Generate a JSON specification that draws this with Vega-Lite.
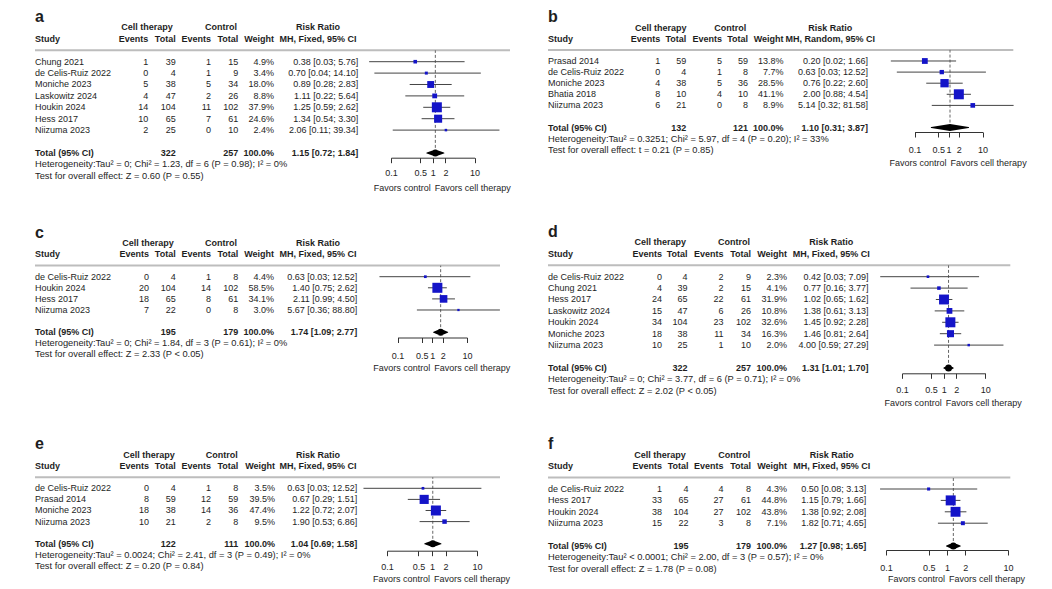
{
"$schema": "https://vega.github.io/schema/vega-lite/v6.json",
"usermeta": {"embedOptions": {"actions": false}},
"background": "white",
"padding": {"left": 0, "top": 4, "right": 6, "bottom": 2},
"config": {
 "view": {"stroke": null},
 "font": "Liberation Sans",
 "text": {"font": "Liberation Sans", "fontSize": 9, "color": "#1e1e1e"},
 "axis": {"labelFont": "Liberation Sans", "labelFontSize": 9, "labelColor": "#1e1e1e", "domainColor": "#333", "tickColor": "#333", "tickSize": 5, "labelFlush": false, "labelOverlap": false, "grid": false}
},
"datasets": {
 "cols": [{"key":"s","c":0},{"key":"lab","c":0},{"key":"e1","c":1},{"key":"n1","c":2},{"key":"e2","c":3},{"key":"n2","c":4},{"key":"wt","c":5},{"key":"ci","c":6}],
 "a_st": [
  {"r":1,"s":"Chung 2021","e1":1,"n1":39,"e2":1,"n2":15,"wt":"4.9%","w":4.9,"ci":"0.38 [0.03; 5.76]","rr":0.38,"lo":0.03,"hi":5.76},
  {"r":2,"s":"de Celis-Ruiz 2022","e1":0,"n1":4,"e2":1,"n2":9,"wt":"3.4%","w":3.4,"ci":"0.70 [0.04; 14.10]","rr":0.70,"lo":0.04,"hi":14.10},
  {"r":3,"s":"Moniche 2023","e1":5,"n1":38,"e2":5,"n2":34,"wt":"18.0%","w":18.0,"ci":"0.89 [0.28; 2.83]","rr":0.89,"lo":0.28,"hi":2.83},
  {"r":4,"s":"Laskowitz 2024","e1":4,"n1":47,"e2":2,"n2":26,"wt":"8.8%","w":8.8,"ci":"1.11 [0.22; 5.64]","rr":1.11,"lo":0.22,"hi":5.64},
  {"r":5,"s":"Houkin 2024","e1":14,"n1":104,"e2":11,"n2":102,"wt":"37.9%","w":37.9,"ci":"1.25 [0.59; 2.62]","rr":1.25,"lo":0.59,"hi":2.62},
  {"r":6,"s":"Hess 2017","e1":10,"n1":65,"e2":7,"n2":61,"wt":"24.6%","w":24.6,"ci":"1.34 [0.54; 3.30]","rr":1.34,"lo":0.54,"hi":3.30},
  {"r":7,"s":"Niizuma 2023","e1":2,"n1":25,"e2":0,"n2":10,"wt":"2.4%","w":2.4,"ci":"2.06 [0.11; 39.34]","rr":2.06,"lo":0.11,"hi":39.34}
 ],
 "a_tt": [{"r":9,"lab":"Total (95% CI)","n1":322,"n2":257,"wt":"100.0%","ci":"1.15 [0.72; 1.84]","rr":1.15,"lo":0.72,"hi":1.84}],
 "a_hd": [
  {"k":"L","r":-2.5,"c":0,"t":"a"},{"k":"H","r":-2,"c":7,"t":"Cell therapy"},{"k":"H","r":-2,"c":8,"t":"Control"},{"k":"H","r":-2,"c":9,"t":"Risk Ratio"},
  {"k":"H","r":-1,"c":0,"t":"Study"},{"k":"H","r":-1,"c":1,"t":"Events"},{"k":"H","r":-1,"c":2,"t":"Total"},{"k":"H","r":-1,"c":3,"t":"Events"},{"k":"H","r":-1,"c":4,"t":"Total"},{"k":"H","r":-1,"c":5,"t":"Weight"},{"k":"H","r":-1,"c":9,"t":"MH, Fixed, 95% CI"},
  {"k":"S","r":0,"c":0},
  {"k":"N","r":10,"c":0,"t":"Heterogeneity:Tau² = 0; Chi² = 1.23, df = 6 (P = 0.98); I² = 0%"},
  {"k":"N","r":11,"c":0,"t":"Test for overall effect: Z = 0.60 (P = 0.55)"},
  {"k":"P","r":-2,"t":"Risk Ratio"},{"k":"P","r":-1,"t":"MH, Fixed, 95% CI"}
 ],
 "b_st": [
  {"r":1,"s":"Prasad 2014","e1":1,"n1":59,"e2":5,"n2":59,"wt":"13.8%","w":13.8,"ci":"0.20 [0.02; 1.66]","rr":0.20,"lo":0.02,"hi":1.66},
  {"r":2,"s":"de Celis-Ruiz 2022","e1":0,"n1":4,"e2":1,"n2":8,"wt":"7.7%","w":7.7,"ci":"0.63 [0.03; 12.52]","rr":0.63,"lo":0.03,"hi":12.52},
  {"r":3,"s":"Moniche 2023","e1":4,"n1":38,"e2":5,"n2":36,"wt":"28.5%","w":28.5,"ci":"0.76 [0.22; 2.60]","rr":0.76,"lo":0.22,"hi":2.60},
  {"r":4,"s":"Bhatia 2018","e1":8,"n1":10,"e2":4,"n2":10,"wt":"41.1%","w":41.1,"ci":"2.00 [0.88; 4.54]","rr":2.00,"lo":0.88,"hi":4.54},
  {"r":5,"s":"Niizuma 2023","e1":6,"n1":21,"e2":0,"n2":8,"wt":"8.9%","w":8.9,"ci":"5.14 [0.32; 81.58]","rr":5.14,"lo":0.32,"hi":81.58}
 ],
 "b_tt": [{"r":7,"lab":"Total (95% CI)","n1":132,"n2":121,"wt":"100.0%","ci":"1.10 [0.31; 3.87]","rr":1.10,"lo":0.31,"hi":3.87}],
 "b_hd": [
  {"k":"L","r":-2.5,"c":0,"t":"b"},{"k":"H","r":-2,"c":7,"t":"Cell therapy"},{"k":"H","r":-2,"c":8,"t":"Control"},{"k":"H","r":-2,"c":9,"t":"Risk Ratio"},
  {"k":"H","r":-1,"c":0,"t":"Study"},{"k":"H","r":-1,"c":1,"t":"Events"},{"k":"H","r":-1,"c":2,"t":"Total"},{"k":"H","r":-1,"c":3,"t":"Events"},{"k":"H","r":-1,"c":4,"t":"Total"},{"k":"H","r":-1,"c":5,"t":"Weight"},{"k":"H","r":-1,"c":9,"t":"MH, Random, 95% CI"},
  {"k":"S","r":0,"c":0},
  {"k":"N","r":8,"c":0,"t":"Heterogeneity:Tau² = 0.3251; Chi² = 5.97, df = 4 (P = 0.20); I² = 33%"},
  {"k":"N","r":9,"c":0,"t":"Test for overall effect: t = 0.21 (P = 0.85)"},
  {"k":"P","r":-2,"t":"Risk Ratio"},{"k":"P","r":-1,"t":"MH, Random, 95% CI"}
 ],
 "c_st": [
  {"r":1,"s":"de Celis-Ruiz 2022","e1":0,"n1":4,"e2":1,"n2":8,"wt":"4.4%","w":4.4,"ci":"0.63 [0.03; 12.52]","rr":0.63,"lo":0.03,"hi":12.52},
  {"r":2,"s":"Houkin 2024","e1":20,"n1":104,"e2":14,"n2":102,"wt":"58.5%","w":58.5,"ci":"1.40 [0.75; 2.62]","rr":1.40,"lo":0.75,"hi":2.62},
  {"r":3,"s":"Hess 2017","e1":18,"n1":65,"e2":8,"n2":61,"wt":"34.1%","w":34.1,"ci":"2.11 [0.99; 4.50]","rr":2.11,"lo":0.99,"hi":4.50},
  {"r":4,"s":"Niizuma 2023","e1":7,"n1":22,"e2":0,"n2":8,"wt":"3.0%","w":3.0,"ci":"5.67 [0.36; 88.80]","rr":5.67,"lo":0.36,"hi":88.80}
 ],
 "c_tt": [{"r":6,"lab":"Total (95% CI)","n1":195,"n2":179,"wt":"100.0%","ci":"1.74 [1.09; 2.77]","rr":1.74,"lo":1.09,"hi":2.77}],
 "c_hd": [
  {"k":"L","r":-2.5,"c":0,"t":"c"},{"k":"H","r":-2,"c":7,"t":"Cell therapy"},{"k":"H","r":-2,"c":8,"t":"Control"},{"k":"H","r":-2,"c":9,"t":"Risk Ratio"},
  {"k":"H","r":-1,"c":0,"t":"Study"},{"k":"H","r":-1,"c":1,"t":"Events"},{"k":"H","r":-1,"c":2,"t":"Total"},{"k":"H","r":-1,"c":3,"t":"Events"},{"k":"H","r":-1,"c":4,"t":"Total"},{"k":"H","r":-1,"c":5,"t":"Weight"},{"k":"H","r":-1,"c":9,"t":"MH, Fixed, 95% CI"},
  {"k":"S","r":0,"c":0},
  {"k":"N","r":7,"c":0,"t":"Heterogeneity:Tau² = 0; Chi² = 1.84, df = 3 (P = 0.61); I² = 0%"},
  {"k":"N","r":8,"c":0,"t":"Test for overall effect: Z = 2.33 (P < 0.05)"},
  {"k":"P","r":-2,"t":"Risk Ratio"},{"k":"P","r":-1,"t":"MH, Fixed, 95% CI"}
 ],
 "d_st": [
  {"r":1,"s":"de Celis-Ruiz 2022","e1":0,"n1":4,"e2":2,"n2":9,"wt":"2.3%","w":2.3,"ci":"0.42 [0.03; 7.09]","rr":0.42,"lo":0.03,"hi":7.09},
  {"r":2,"s":"Chung 2021","e1":4,"n1":39,"e2":2,"n2":15,"wt":"4.1%","w":4.1,"ci":"0.77 [0.16; 3.77]","rr":0.77,"lo":0.16,"hi":3.77},
  {"r":3,"s":"Hess 2017","e1":24,"n1":65,"e2":22,"n2":61,"wt":"31.9%","w":31.9,"ci":"1.02 [0.65; 1.62]","rr":1.02,"lo":0.65,"hi":1.62},
  {"r":4,"s":"Laskowitz 2024","e1":15,"n1":47,"e2":6,"n2":26,"wt":"10.8%","w":10.8,"ci":"1.38 [0.61; 3.13]","rr":1.38,"lo":0.61,"hi":3.13},
  {"r":5,"s":"Houkin 2024","e1":34,"n1":104,"e2":23,"n2":102,"wt":"32.6%","w":32.6,"ci":"1.45 [0.92; 2.28]","rr":1.45,"lo":0.92,"hi":2.28},
  {"r":6,"s":"Moniche 2023","e1":18,"n1":38,"e2":11,"n2":34,"wt":"16.3%","w":16.3,"ci":"1.46 [0.81; 2.64]","rr":1.46,"lo":0.81,"hi":2.64},
  {"r":7,"s":"Niizuma 2023","e1":10,"n1":25,"e2":1,"n2":10,"wt":"2.0%","w":2.0,"ci":"4.00 [0.59; 27.29]","rr":4.00,"lo":0.59,"hi":27.29}
 ],
 "d_tt": [{"r":9,"lab":"Total (95% CI)","n1":322,"n2":257,"wt":"100.0%","ci":"1.31 [1.01; 1.70]","rr":1.31,"lo":1.01,"hi":1.70}],
 "d_hd": [
  {"k":"L","r":-2.5,"c":0,"t":"d"},{"k":"H","r":-2,"c":7,"t":"Cell therapy"},{"k":"H","r":-2,"c":8,"t":"Control"},{"k":"H","r":-2,"c":9,"t":"Risk Ratio"},
  {"k":"H","r":-1,"c":0,"t":"Study"},{"k":"H","r":-1,"c":1,"t":"Events"},{"k":"H","r":-1,"c":2,"t":"Total"},{"k":"H","r":-1,"c":3,"t":"Events"},{"k":"H","r":-1,"c":4,"t":"Total"},{"k":"H","r":-1,"c":5,"t":"Weight"},{"k":"H","r":-1,"c":9,"t":"MH, Fixed, 95% CI"},
  {"k":"S","r":0,"c":0},
  {"k":"N","r":10,"c":0,"t":"Heterogeneity:Tau² = 0; Chi² = 3.77, df = 6 (P = 0.71); I² = 0%"},
  {"k":"N","r":11,"c":0,"t":"Test for overall effect: Z = 2.02 (P < 0.05)"},
  {"k":"P","r":-2,"t":"Risk Ratio"},{"k":"P","r":-1,"t":"MH, Fixed, 95% CI"}
 ],
 "e_st": [
  {"r":1,"s":"de Celis-Ruiz 2022","e1":0,"n1":4,"e2":1,"n2":8,"wt":"3.5%","w":3.5,"ci":"0.63 [0.03; 12.52]","rr":0.63,"lo":0.03,"hi":12.52},
  {"r":2,"s":"Prasad 2014","e1":8,"n1":59,"e2":12,"n2":59,"wt":"39.5%","w":39.5,"ci":"0.67 [0.29; 1.51]","rr":0.67,"lo":0.29,"hi":1.51},
  {"r":3,"s":"Moniche 2023","e1":18,"n1":38,"e2":14,"n2":36,"wt":"47.4%","w":47.4,"ci":"1.22 [0.72; 2.07]","rr":1.22,"lo":0.72,"hi":2.07},
  {"r":4,"s":"Niizuma 2023","e1":10,"n1":21,"e2":2,"n2":8,"wt":"9.5%","w":9.5,"ci":"1.90 [0.53; 6.86]","rr":1.90,"lo":0.53,"hi":6.86}
 ],
 "e_tt": [{"r":6,"lab":"Total (95% CI)","n1":122,"n2":111,"wt":"100.0%","ci":"1.04 [0.69; 1.58]","rr":1.04,"lo":0.69,"hi":1.58}],
 "e_hd": [
  {"k":"L","r":-2.5,"c":0,"t":"e"},{"k":"H","r":-2,"c":7,"t":"Cell therapy"},{"k":"H","r":-2,"c":8,"t":"Control"},{"k":"H","r":-2,"c":9,"t":"Risk Ratio"},
  {"k":"H","r":-1,"c":0,"t":"Study"},{"k":"H","r":-1,"c":1,"t":"Events"},{"k":"H","r":-1,"c":2,"t":"Total"},{"k":"H","r":-1,"c":3,"t":"Events"},{"k":"H","r":-1,"c":4,"t":"Total"},{"k":"H","r":-1,"c":5,"t":"Weight"},{"k":"H","r":-1,"c":9,"t":"MH, Fixed, 95% CI"},
  {"k":"S","r":0,"c":0},
  {"k":"N","r":7,"c":0,"t":"Heterogeneity:Tau² = 0.0024; Chi² = 2.41, df = 3 (P = 0.49); I² = 0%"},
  {"k":"N","r":8,"c":0,"t":"Test for overall effect: Z = 0.20 (P = 0.84)"},
  {"k":"P","r":-2,"t":"Risk Ratio"},{"k":"P","r":-1,"t":"MH, Fixed, 95% CI"}
 ],
 "f_st": [
  {"r":1,"s":"de Celis-Ruiz 2022","e1":1,"n1":4,"e2":4,"n2":8,"wt":"4.3%","w":4.3,"ci":"0.50 [0.08; 3.13]","rr":0.50,"lo":0.08,"hi":3.13},
  {"r":2,"s":"Hess 2017","e1":33,"n1":65,"e2":27,"n2":61,"wt":"44.8%","w":44.8,"ci":"1.15 [0.79; 1.66]","rr":1.15,"lo":0.79,"hi":1.66},
  {"r":3,"s":"Houkin 2024","e1":38,"n1":104,"e2":27,"n2":102,"wt":"43.8%","w":43.8,"ci":"1.38 [0.92; 2.08]","rr":1.38,"lo":0.92,"hi":2.08},
  {"r":4,"s":"Niizuma 2023","e1":15,"n1":22,"e2":3,"n2":8,"wt":"7.1%","w":7.1,"ci":"1.82 [0.71; 4.65]","rr":1.82,"lo":0.71,"hi":4.65}
 ],
 "f_tt": [{"r":6,"lab":"Total (95% CI)","n1":195,"n2":179,"wt":"100.0%","ci":"1.27 [0.98; 1.65]","rr":1.27,"lo":0.98,"hi":1.65}],
 "f_hd": [
  {"k":"L","r":-2.5,"c":0,"t":"f"},{"k":"H","r":-2,"c":7,"t":"Cell therapy"},{"k":"H","r":-2,"c":8,"t":"Control"},{"k":"H","r":-2,"c":9,"t":"Risk Ratio"},
  {"k":"H","r":-1,"c":0,"t":"Study"},{"k":"H","r":-1,"c":1,"t":"Events"},{"k":"H","r":-1,"c":2,"t":"Total"},{"k":"H","r":-1,"c":3,"t":"Events"},{"k":"H","r":-1,"c":4,"t":"Total"},{"k":"H","r":-1,"c":5,"t":"Weight"},{"k":"H","r":-1,"c":9,"t":"MH, Fixed, 95% CI"},
  {"k":"S","r":0,"c":0},
  {"k":"N","r":7,"c":0,"t":"Heterogeneity:Tau² < 0.0001; Chi² = 2.00, df = 3 (P = 0.57); I² = 0%"},
  {"k":"N","r":8,"c":0,"t":"Test for overall effect: Z = 1.78 (P = 0.08)"},
  {"k":"P","r":-2,"t":"Risk Ratio"},{"k":"P","r":-1,"t":"MH, Fixed, 95% CI"}
 ]
},
"columns": 4,
"align": "each",
"spacing": {"row": 10, "column": 0},
"bounds": "flush",
"resolve": {"scale": {"size": "independent"}},
"concat": [
  {"width": 386.7, "height": 205,
   "encoding": {"x": {"field": "c", "type": "quantitative", "axis": null, "scale": {"domain": [0,1,2,3,4,5,6,7,8,9,10], "range": [35,148.3,175.7,211,238.3,274,358.3,147,221,318,510], "zero": false, "nice": false}},
    "y": {"field": "r", "type": "quantitative", "axis": null, "scale": {"domain": [-4.061, 13.921], "reverse": true, "zero": false, "nice": false}},
    "text": {"field": "t", "type": "nominal"}},
   "layer": [
    {"data": {"name": "a_st"}, "transform": [{"fold": ["s"], "as": ["key","t"]}, {"lookup": "key", "from": {"data": {"name": "cols"}, "key": "key", "fields": ["c"]}}], "mark": {"type": "text", "align": "left"}},
    {"data": {"name": "a_st"}, "transform": [{"fold": ["e1","n1","e2","n2","wt","ci"], "as": ["key","t"]}, {"lookup": "key", "from": {"data": {"name": "cols"}, "key": "key", "fields": ["c"]}}], "mark": {"type": "text", "align": "right"}},
    {"data": {"name": "a_tt"}, "transform": [{"fold": ["lab"], "as": ["key","t"]}, {"lookup": "key", "from": {"data": {"name": "cols"}, "key": "key", "fields": ["c"]}}], "mark": {"type": "text", "align": "left", "fontWeight": "bold"}},
    {"data": {"name": "a_tt"}, "transform": [{"fold": ["n1","n2","wt","ci"], "as": ["key","t"]}, {"lookup": "key", "from": {"data": {"name": "cols"}, "key": "key", "fields": ["c"]}}], "mark": {"type": "text", "align": "right", "fontWeight": "bold"}},
    {"data": {"name": "a_hd"}, "transform": [{"filter": "datum.k == 'N'"}], "mark": {"type": "text", "align": "left", "fontSize": 9.3}},
    {"data": {"name": "a_hd"}, "transform": [{"filter": "datum.k == 'H' && datum.c == 0"}], "mark": {"type": "text", "align": "left", "fontWeight": "bold"}},
    {"data": {"name": "a_hd"}, "transform": [{"filter": "datum.k == 'H' && datum.c > 0 && datum.c < 7"}], "mark": {"type": "text", "align": "right", "fontWeight": "bold"}},
    {"data": {"name": "a_hd"}, "transform": [{"filter": "datum.k == 'H' && datum.c > 6"}], "mark": {"type": "text", "align": "center", "fontWeight": "bold"}},
    {"data": {"name": "a_hd"}, "transform": [{"filter": "datum.k == 'L'"}], "mark": {"type": "text", "align": "left", "fontWeight": "bold", "fontSize": 16, "baseline": "alphabetic"}},
    {"data": {"name": "a_hd"}, "transform": [{"filter": "datum.k == 'S'"}], "mark": {"type": "rule", "color": "#bdbdbd", "strokeWidth": 2}, "encoding": {"x2": {"datum": 10}}}
   ]},
  {"width": 90, "height": 153.7, "resolve": {"scale": {"size": "independent"}},
   "encoding": {"x": {"field": "rr", "type": "quantitative", "title": null, "scale": {"type": "log", "domain": [0.1, 10], "range": [4, 87.6], "nice": false, "zero": false}, "axis": {"values": [0.1,0.5,1,2,10], "format": "~g", "labelPadding": 6}},
    "y": {"field": "r", "type": "quantitative", "axis": null, "scale": {"domain": [-4.061, 9.421], "reverse": true, "zero": false, "nice": false}}},
   "layer": [
    {"data": {"name": "a_hd"}, "transform": [{"filter": "datum.k == 'S'"}], "mark": {"type": "rule", "color": "#000", "strokeWidth": 1}, "encoding": {"x": {"datum": 1, "type": "quantitative"}, "y2": {"datum": 9.421}}},
    {"data": {"name": "a_tt"}, "mark": {"type": "rule", "color": "#666", "strokeWidth": 1, "strokeDash": [3,2]}, "encoding": {"y2": {"datum": 0}}},
    {"data": {"name": "a_st"}, "mark": {"type": "rule", "color": "#444", "strokeWidth": 1}, "encoding": {"x": {"field": "lo", "type": "quantitative"}, "x2": {"field": "hi"}}},
    {"data": {"name": "a_st"}, "mark": {"type": "point", "shape": "square", "filled": true, "color": "#1414c8", "opacity": 1}, "encoding": {"size": {"field": "w", "type": "quantitative", "legend": null, "scale": {"zero": true, "nice": false, "range": [0, 100]}}}},
    {"data": {"name": "a_tt"}, "transform": [{"fold": ["lo","rr","hi"], "as": ["key","v"]}, {"window": [{"op": "row_number", "as": "o"}]}], "mark": {"type": "trail", "color": "#000"}, "encoding": {"x": {"field": "v", "type": "quantitative"}, "size": {"field": "o", "type": "quantitative", "legend": null, "scale": {"type": "threshold", "domain": [1.5, 2.5], "range": [0, 7, 0]}}, "order": {"field": "o", "type": "quantitative"}}},
    {"data": {"name": "a_hd"}, "transform": [{"filter": "datum.k == 'P'"}], "mark": {"type": "text", "fontWeight": "bold"}, "encoding": {"x": {"datum": 1, "type": "quantitative"}, "text": {"field": "t", "type": "nominal"}}},
    {"data": {"name": "a_tt"}, "mark": {"type": "text", "align": "right", "dx": -2}, "encoding": {"x": {"datum": 1, "type": "quantitative"}, "y": {"datum": 12.05, "type": "quantitative"}, "text": {"value": "Favors control"}}},
    {"data": {"name": "a_tt"}, "mark": {"type": "text", "align": "left", "dx": 2}, "encoding": {"x": {"datum": 1, "type": "quantitative"}, "y": {"datum": 12.05, "type": "quantitative"}, "text": {"value": "Favors cell therapy"}}}
   ]},
  {"width": 409, "height": 205,
   "encoding": {"x": {"field": "c", "type": "quantitative", "axis": null, "scale": {"domain": [0,1,2,3,4,5,6,7,8,9,10], "range": [71,183.3,209.3,245,271,306.6,391,183.8,253.3,353.3,536.3], "zero": false, "nice": false}},
    "y": {"field": "r", "type": "quantitative", "axis": null, "scale": {"domain": [-4.135, 14.333], "reverse": true, "zero": false, "nice": false}},
    "text": {"field": "t", "type": "nominal"}},
   "layer": [
    {"data": {"name": "b_st"}, "transform": [{"fold": ["s"], "as": ["key","t"]}, {"lookup": "key", "from": {"data": {"name": "cols"}, "key": "key", "fields": ["c"]}}], "mark": {"type": "text", "align": "left"}},
    {"data": {"name": "b_st"}, "transform": [{"fold": ["e1","n1","e2","n2","wt","ci"], "as": ["key","t"]}, {"lookup": "key", "from": {"data": {"name": "cols"}, "key": "key", "fields": ["c"]}}], "mark": {"type": "text", "align": "right"}},
    {"data": {"name": "b_tt"}, "transform": [{"fold": ["lab"], "as": ["key","t"]}, {"lookup": "key", "from": {"data": {"name": "cols"}, "key": "key", "fields": ["c"]}}], "mark": {"type": "text", "align": "left", "fontWeight": "bold"}},
    {"data": {"name": "b_tt"}, "transform": [{"fold": ["n1","n2","wt","ci"], "as": ["key","t"]}, {"lookup": "key", "from": {"data": {"name": "cols"}, "key": "key", "fields": ["c"]}}], "mark": {"type": "text", "align": "right", "fontWeight": "bold"}},
    {"data": {"name": "b_hd"}, "transform": [{"filter": "datum.k == 'N'"}], "mark": {"type": "text", "align": "left", "fontSize": 9.3}},
    {"data": {"name": "b_hd"}, "transform": [{"filter": "datum.k == 'H' && datum.c == 0"}], "mark": {"type": "text", "align": "left", "fontWeight": "bold"}},
    {"data": {"name": "b_hd"}, "transform": [{"filter": "datum.k == 'H' && datum.c > 0 && datum.c < 7"}], "mark": {"type": "text", "align": "right", "fontWeight": "bold"}},
    {"data": {"name": "b_hd"}, "transform": [{"filter": "datum.k == 'H' && datum.c > 6"}], "mark": {"type": "text", "align": "center", "fontWeight": "bold"}},
    {"data": {"name": "b_hd"}, "transform": [{"filter": "datum.k == 'L'"}], "mark": {"type": "text", "align": "left", "fontWeight": "bold", "fontSize": 16, "baseline": "alphabetic"}},
    {"data": {"name": "b_hd"}, "transform": [{"filter": "datum.k == 'S'"}], "mark": {"type": "rule", "color": "#bdbdbd", "strokeWidth": 2}, "encoding": {"x2": {"datum": 10}}}
   ]},
  {"width": 122, "height": 128, "resolve": {"scale": {"size": "independent"}},
   "encoding": {"x": {"field": "rr", "type": "quantitative", "title": null, "scale": {"type": "log", "domain": [0.1, 10], "range": [28.6, 96.6], "nice": false, "zero": false}, "axis": {"values": [0.1,0.5,1,2,10], "format": "~g", "labelPadding": 8}},
    "y": {"field": "r", "type": "quantitative", "axis": null, "scale": {"domain": [-4.135, 7.397], "reverse": true, "zero": false, "nice": false}}},
   "layer": [
    {"data": {"name": "b_hd"}, "transform": [{"filter": "datum.k == 'S'"}], "mark": {"type": "rule", "color": "#000", "strokeWidth": 1}, "encoding": {"x": {"datum": 1, "type": "quantitative"}, "y2": {"datum": 7.397}}},
    {"data": {"name": "b_tt"}, "mark": {"type": "rule", "color": "#666", "strokeWidth": 1, "strokeDash": [3,2]}, "encoding": {"y2": {"datum": 0}}},
    {"data": {"name": "b_st"}, "mark": {"type": "rule", "color": "#444", "strokeWidth": 1}, "encoding": {"x": {"field": "lo", "type": "quantitative"}, "x2": {"field": "hi"}}},
    {"data": {"name": "b_st"}, "mark": {"type": "point", "shape": "square", "filled": true, "color": "#1414c8", "opacity": 1}, "encoding": {"size": {"field": "w", "type": "quantitative", "legend": null, "scale": {"zero": true, "nice": false, "range": [0, 100]}}}},
    {"data": {"name": "b_tt"}, "transform": [{"fold": ["lo","rr","hi"], "as": ["key","v"]}, {"window": [{"op": "row_number", "as": "o"}]}], "mark": {"type": "trail", "color": "#000"}, "encoding": {"x": {"field": "v", "type": "quantitative"}, "size": {"field": "o", "type": "quantitative", "legend": null, "scale": {"type": "threshold", "domain": [1.5, 2.5], "range": [0, 7, 0]}}, "order": {"field": "o", "type": "quantitative"}}},
    {"data": {"name": "b_hd"}, "transform": [{"filter": "datum.k == 'P'"}], "mark": {"type": "text", "fontWeight": "bold"}, "encoding": {"x": {"datum": 1, "type": "quantitative"}, "text": {"field": "t", "type": "nominal"}}},
    {"data": {"name": "b_tt"}, "mark": {"type": "text", "align": "right", "dx": -2}, "encoding": {"x": {"datum": 1, "type": "quantitative"}, "y": {"datum": 10.16, "type": "quantitative"}, "text": {"value": "Favors control"}}},
    {"data": {"name": "b_tt"}, "mark": {"type": "text", "align": "left", "dx": 2}, "encoding": {"x": {"datum": 1, "type": "quantitative"}, "y": {"datum": 10.16, "type": "quantitative"}, "text": {"value": "Favors cell therapy"}}}
   ]},
  {"width": 386.7, "height": 202,
   "encoding": {"x": {"field": "c", "type": "quantitative", "axis": null, "scale": {"domain": [0,1,2,3,4,5,6,7,8,9,10], "range": [35,149,175.7,211,238.3,274,357.3,148,221,318,500], "zero": false, "nice": false}},
    "y": {"field": "r", "type": "quantitative", "axis": null, "scale": {"domain": [-4.198, 14.0], "reverse": true, "zero": false, "nice": false}},
    "text": {"field": "t", "type": "nominal"}},
   "layer": [
    {"data": {"name": "c_st"}, "transform": [{"fold": ["s"], "as": ["key","t"]}, {"lookup": "key", "from": {"data": {"name": "cols"}, "key": "key", "fields": ["c"]}}], "mark": {"type": "text", "align": "left"}},
    {"data": {"name": "c_st"}, "transform": [{"fold": ["e1","n1","e2","n2","wt","ci"], "as": ["key","t"]}, {"lookup": "key", "from": {"data": {"name": "cols"}, "key": "key", "fields": ["c"]}}], "mark": {"type": "text", "align": "right"}},
    {"data": {"name": "c_tt"}, "transform": [{"fold": ["lab"], "as": ["key","t"]}, {"lookup": "key", "from": {"data": {"name": "cols"}, "key": "key", "fields": ["c"]}}], "mark": {"type": "text", "align": "left", "fontWeight": "bold"}},
    {"data": {"name": "c_tt"}, "transform": [{"fold": ["n1","n2","wt","ci"], "as": ["key","t"]}, {"lookup": "key", "from": {"data": {"name": "cols"}, "key": "key", "fields": ["c"]}}], "mark": {"type": "text", "align": "right", "fontWeight": "bold"}},
    {"data": {"name": "c_hd"}, "transform": [{"filter": "datum.k == 'N'"}], "mark": {"type": "text", "align": "left", "fontSize": 9.3}},
    {"data": {"name": "c_hd"}, "transform": [{"filter": "datum.k == 'H' && datum.c == 0"}], "mark": {"type": "text", "align": "left", "fontWeight": "bold"}},
    {"data": {"name": "c_hd"}, "transform": [{"filter": "datum.k == 'H' && datum.c > 0 && datum.c < 7"}], "mark": {"type": "text", "align": "right", "fontWeight": "bold"}},
    {"data": {"name": "c_hd"}, "transform": [{"filter": "datum.k == 'H' && datum.c > 6"}], "mark": {"type": "text", "align": "center", "fontWeight": "bold"}},
    {"data": {"name": "c_hd"}, "transform": [{"filter": "datum.k == 'L'"}], "mark": {"type": "text", "align": "left", "fontWeight": "bold", "fontSize": 16, "baseline": "alphabetic"}},
    {"data": {"name": "c_hd"}, "transform": [{"filter": "datum.k == 'S'"}], "mark": {"type": "rule", "color": "#bdbdbd", "strokeWidth": 2}, "encoding": {"x2": {"datum": 10}}}
   ]},
  {"width": 90, "height": 118.5, "resolve": {"scale": {"size": "independent"}},
   "encoding": {"x": {"field": "rr", "type": "quantitative", "title": null, "scale": {"type": "log", "domain": [0.1, 10], "range": [10.6, 80], "nice": false, "zero": false}, "axis": {"values": [0.1,0.5,1,2,10], "format": "~g", "labelPadding": 8.5}},
    "y": {"field": "r", "type": "quantitative", "axis": null, "scale": {"domain": [-4.198, 6.478], "reverse": true, "zero": false, "nice": false}}},
   "layer": [
    {"data": {"name": "c_hd"}, "transform": [{"filter": "datum.k == 'S'"}], "mark": {"type": "rule", "color": "#000", "strokeWidth": 1}, "encoding": {"x": {"datum": 1, "type": "quantitative"}, "y2": {"datum": 6.478}}},
    {"data": {"name": "c_tt"}, "mark": {"type": "rule", "color": "#666", "strokeWidth": 1, "strokeDash": [3,2]}, "encoding": {"y2": {"datum": 0}}},
    {"data": {"name": "c_st"}, "mark": {"type": "rule", "color": "#444", "strokeWidth": 1}, "encoding": {"x": {"field": "lo", "type": "quantitative"}, "x2": {"field": "hi"}}},
    {"data": {"name": "c_st"}, "mark": {"type": "point", "shape": "square", "filled": true, "color": "#1414c8", "opacity": 1}, "encoding": {"size": {"field": "w", "type": "quantitative", "legend": null, "scale": {"zero": true, "nice": false, "range": [0, 100]}}}},
    {"data": {"name": "c_tt"}, "transform": [{"fold": ["lo","rr","hi"], "as": ["key","v"]}, {"window": [{"op": "row_number", "as": "o"}]}], "mark": {"type": "trail", "color": "#000"}, "encoding": {"x": {"field": "v", "type": "quantitative"}, "size": {"field": "o", "type": "quantitative", "legend": null, "scale": {"type": "threshold", "domain": [1.5, 2.5], "range": [0, 7, 0]}}, "order": {"field": "o", "type": "quantitative"}}},
    {"data": {"name": "c_hd"}, "transform": [{"filter": "datum.k == 'P'"}], "mark": {"type": "text", "fontWeight": "bold"}, "encoding": {"x": {"datum": 1, "type": "quantitative"}, "text": {"field": "t", "type": "nominal"}}},
    {"data": {"name": "c_tt"}, "mark": {"type": "text", "align": "right", "dx": -2}, "encoding": {"x": {"datum": 1, "type": "quantitative"}, "y": {"datum": 9.25, "type": "quantitative"}, "text": {"value": "Favors control"}}},
    {"data": {"name": "c_tt"}, "mark": {"type": "text", "align": "left", "dx": 2}, "encoding": {"x": {"datum": 1, "type": "quantitative"}, "y": {"datum": 9.25, "type": "quantitative"}, "text": {"value": "Favors cell therapy"}}}
   ]},
  {"width": 409, "height": 202,
   "encoding": {"x": {"field": "c", "type": "quantitative", "axis": null, "scale": {"domain": [0,1,2,3,4,5,6,7,8,9,10], "range": [71,185,210.6,246.6,274,310,391.6,183.3,257,354.3,533.3], "zero": false, "nice": false}},
    "y": {"field": "r", "type": "quantitative", "axis": null, "scale": {"domain": [-4.061, 13.658], "reverse": true, "zero": false, "nice": false}},
    "text": {"field": "t", "type": "nominal"}},
   "layer": [
    {"data": {"name": "d_st"}, "transform": [{"fold": ["s"], "as": ["key","t"]}, {"lookup": "key", "from": {"data": {"name": "cols"}, "key": "key", "fields": ["c"]}}], "mark": {"type": "text", "align": "left"}},
    {"data": {"name": "d_st"}, "transform": [{"fold": ["e1","n1","e2","n2","wt","ci"], "as": ["key","t"]}, {"lookup": "key", "from": {"data": {"name": "cols"}, "key": "key", "fields": ["c"]}}], "mark": {"type": "text", "align": "right"}},
    {"data": {"name": "d_tt"}, "transform": [{"fold": ["lab"], "as": ["key","t"]}, {"lookup": "key", "from": {"data": {"name": "cols"}, "key": "key", "fields": ["c"]}}], "mark": {"type": "text", "align": "left", "fontWeight": "bold"}},
    {"data": {"name": "d_tt"}, "transform": [{"fold": ["n1","n2","wt","ci"], "as": ["key","t"]}, {"lookup": "key", "from": {"data": {"name": "cols"}, "key": "key", "fields": ["c"]}}], "mark": {"type": "text", "align": "right", "fontWeight": "bold"}},
    {"data": {"name": "d_hd"}, "transform": [{"filter": "datum.k == 'N'"}], "mark": {"type": "text", "align": "left", "fontSize": 9.3}},
    {"data": {"name": "d_hd"}, "transform": [{"filter": "datum.k == 'H' && datum.c == 0"}], "mark": {"type": "text", "align": "left", "fontWeight": "bold"}},
    {"data": {"name": "d_hd"}, "transform": [{"filter": "datum.k == 'H' && datum.c > 0 && datum.c < 7"}], "mark": {"type": "text", "align": "right", "fontWeight": "bold"}},
    {"data": {"name": "d_hd"}, "transform": [{"filter": "datum.k == 'H' && datum.c > 6"}], "mark": {"type": "text", "align": "center", "fontWeight": "bold"}},
    {"data": {"name": "d_hd"}, "transform": [{"filter": "datum.k == 'L'"}], "mark": {"type": "text", "align": "left", "fontWeight": "bold", "fontSize": 16, "baseline": "alphabetic"}},
    {"data": {"name": "d_hd"}, "transform": [{"filter": "datum.k == 'S'"}], "mark": {"type": "rule", "color": "#bdbdbd", "strokeWidth": 2}, "encoding": {"x2": {"datum": 10}}}
   ]},
  {"width": 122, "height": 154.3, "resolve": {"scale": {"size": "independent"}},
   "encoding": {"x": {"field": "rr", "type": "quantitative", "title": null, "scale": {"type": "log", "domain": [0.1, 10], "range": [16, 99.3], "nice": false, "zero": false}, "axis": {"values": [0.1,0.5,1,2,10], "format": "~g", "labelPadding": 7}},
    "y": {"field": "r", "type": "quantitative", "axis": null, "scale": {"domain": [-4.061, 9.474], "reverse": true, "zero": false, "nice": false}}},
   "layer": [
    {"data": {"name": "d_hd"}, "transform": [{"filter": "datum.k == 'S'"}], "mark": {"type": "rule", "color": "#000", "strokeWidth": 1}, "encoding": {"x": {"datum": 1, "type": "quantitative"}, "y2": {"datum": 9.474}}},
    {"data": {"name": "d_tt"}, "mark": {"type": "rule", "color": "#666", "strokeWidth": 1, "strokeDash": [3,2]}, "encoding": {"y2": {"datum": 0}}},
    {"data": {"name": "d_st"}, "mark": {"type": "rule", "color": "#444", "strokeWidth": 1}, "encoding": {"x": {"field": "lo", "type": "quantitative"}, "x2": {"field": "hi"}}},
    {"data": {"name": "d_st"}, "mark": {"type": "point", "shape": "square", "filled": true, "color": "#1414c8", "opacity": 1}, "encoding": {"size": {"field": "w", "type": "quantitative", "legend": null, "scale": {"zero": true, "nice": false, "range": [0, 100]}}}},
    {"data": {"name": "d_tt"}, "transform": [{"fold": ["lo","rr","hi"], "as": ["key","v"]}, {"window": [{"op": "row_number", "as": "o"}]}], "mark": {"type": "trail", "color": "#000"}, "encoding": {"x": {"field": "v", "type": "quantitative"}, "size": {"field": "o", "type": "quantitative", "legend": null, "scale": {"type": "threshold", "domain": [1.5, 2.5], "range": [0, 7, 0]}}, "order": {"field": "o", "type": "quantitative"}}},
    {"data": {"name": "d_hd"}, "transform": [{"filter": "datum.k == 'P'"}], "mark": {"type": "text", "fontWeight": "bold"}, "encoding": {"x": {"datum": 1, "type": "quantitative"}, "text": {"field": "t", "type": "nominal"}}},
    {"data": {"name": "d_tt"}, "mark": {"type": "text", "align": "right", "dx": -2}, "encoding": {"x": {"datum": 1, "type": "quantitative"}, "y": {"datum": 12.08, "type": "quantitative"}, "text": {"value": "Favors control"}}},
    {"data": {"name": "d_tt"}, "mark": {"type": "text", "align": "left", "dx": 2}, "encoding": {"x": {"datum": 1, "type": "quantitative"}, "y": {"datum": 12.08, "type": "quantitative"}, "text": {"value": "Favors cell therapy"}}}
   ]},
  {"width": 386.7, "height": 150,
   "encoding": {"x": {"field": "c", "type": "quantitative", "axis": null, "scale": {"domain": [0,1,2,3,4,5,6,7,8,9,10], "range": [35,149,175.7,211,238.3,275,357.3,149,221.7,318,500], "zero": false, "nice": false}},
    "y": {"field": "r", "type": "quantitative", "axis": null, "scale": {"domain": [-4.162, 9.352], "reverse": true, "zero": false, "nice": false}},
    "text": {"field": "t", "type": "nominal"}},
   "layer": [
    {"data": {"name": "e_st"}, "transform": [{"fold": ["s"], "as": ["key","t"]}, {"lookup": "key", "from": {"data": {"name": "cols"}, "key": "key", "fields": ["c"]}}], "mark": {"type": "text", "align": "left"}},
    {"data": {"name": "e_st"}, "transform": [{"fold": ["e1","n1","e2","n2","wt","ci"], "as": ["key","t"]}, {"lookup": "key", "from": {"data": {"name": "cols"}, "key": "key", "fields": ["c"]}}], "mark": {"type": "text", "align": "right"}},
    {"data": {"name": "e_tt"}, "transform": [{"fold": ["lab"], "as": ["key","t"]}, {"lookup": "key", "from": {"data": {"name": "cols"}, "key": "key", "fields": ["c"]}}], "mark": {"type": "text", "align": "left", "fontWeight": "bold"}},
    {"data": {"name": "e_tt"}, "transform": [{"fold": ["n1","n2","wt","ci"], "as": ["key","t"]}, {"lookup": "key", "from": {"data": {"name": "cols"}, "key": "key", "fields": ["c"]}}], "mark": {"type": "text", "align": "right", "fontWeight": "bold"}},
    {"data": {"name": "e_hd"}, "transform": [{"filter": "datum.k == 'N'"}], "mark": {"type": "text", "align": "left", "fontSize": 9.3}},
    {"data": {"name": "e_hd"}, "transform": [{"filter": "datum.k == 'H' && datum.c == 0"}], "mark": {"type": "text", "align": "left", "fontWeight": "bold"}},
    {"data": {"name": "e_hd"}, "transform": [{"filter": "datum.k == 'H' && datum.c > 0 && datum.c < 7"}], "mark": {"type": "text", "align": "right", "fontWeight": "bold"}},
    {"data": {"name": "e_hd"}, "transform": [{"filter": "datum.k == 'H' && datum.c > 6"}], "mark": {"type": "text", "align": "center", "fontWeight": "bold"}},
    {"data": {"name": "e_hd"}, "transform": [{"filter": "datum.k == 'L'"}], "mark": {"type": "text", "align": "left", "fontWeight": "bold", "fontSize": 16, "baseline": "alphabetic"}},
    {"data": {"name": "e_hd"}, "transform": [{"filter": "datum.k == 'S'"}], "mark": {"type": "rule", "color": "#bdbdbd", "strokeWidth": 2}, "encoding": {"x2": {"datum": 10}}}
   ]},
  {"width": 90, "height": 119.7, "resolve": {"scale": {"size": "independent"}},
   "encoding": {"x": {"field": "rr", "type": "quantitative", "title": null, "scale": {"type": "log", "domain": [0.1, 10], "range": [0, 90], "nice": false, "zero": false}, "axis": {"values": [0.1,0.5,1,2,10], "format": "~g", "labelPadding": 6.5}},
    "y": {"field": "r", "type": "quantitative", "axis": null, "scale": {"domain": [-4.162, 6.622], "reverse": true, "zero": false, "nice": false}}},
   "layer": [
    {"data": {"name": "e_hd"}, "transform": [{"filter": "datum.k == 'S'"}], "mark": {"type": "rule", "color": "#000", "strokeWidth": 1}, "encoding": {"x": {"datum": 1, "type": "quantitative"}, "y2": {"datum": 6.622}}},
    {"data": {"name": "e_tt"}, "mark": {"type": "rule", "color": "#666", "strokeWidth": 1, "strokeDash": [3,2]}, "encoding": {"y2": {"datum": 0}}},
    {"data": {"name": "e_st"}, "mark": {"type": "rule", "color": "#444", "strokeWidth": 1}, "encoding": {"x": {"field": "lo", "type": "quantitative"}, "x2": {"field": "hi"}}},
    {"data": {"name": "e_st"}, "mark": {"type": "point", "shape": "square", "filled": true, "color": "#1414c8", "opacity": 1}, "encoding": {"size": {"field": "w", "type": "quantitative", "legend": null, "scale": {"zero": true, "nice": false, "range": [0, 100]}}}},
    {"data": {"name": "e_tt"}, "transform": [{"fold": ["lo","rr","hi"], "as": ["key","v"]}, {"window": [{"op": "row_number", "as": "o"}]}], "mark": {"type": "trail", "color": "#000"}, "encoding": {"x": {"field": "v", "type": "quantitative"}, "size": {"field": "o", "type": "quantitative", "legend": null, "scale": {"type": "threshold", "domain": [1.5, 2.5], "range": [0, 7, 0]}}, "order": {"field": "o", "type": "quantitative"}}},
    {"data": {"name": "e_hd"}, "transform": [{"filter": "datum.k == 'P'"}], "mark": {"type": "text", "fontWeight": "bold"}, "encoding": {"x": {"datum": 1, "type": "quantitative"}, "text": {"field": "t", "type": "nominal"}}},
    {"data": {"name": "e_tt"}, "mark": {"type": "text", "align": "right", "dx": -2}, "encoding": {"x": {"datum": 1, "type": "quantitative"}, "y": {"datum": 9.17, "type": "quantitative"}, "text": {"value": "Favors control"}}},
    {"data": {"name": "e_tt"}, "mark": {"type": "text", "align": "left", "dx": 2}, "encoding": {"x": {"datum": 1, "type": "quantitative"}, "y": {"datum": 9.17, "type": "quantitative"}, "text": {"value": "Favors cell therapy"}}}
   ]},
  {"width": 409, "height": 150,
   "encoding": {"x": {"field": "c", "type": "quantitative", "axis": null, "scale": {"domain": [0,1,2,3,4,5,6,7,8,9,10], "range": [71,185,211.6,246.6,274,310,389.3,183.1,257.3,354.8,533.3], "zero": false, "nice": false}},
    "y": {"field": "r", "type": "quantitative", "axis": null, "scale": {"domain": [-4.088, 9.07], "reverse": true, "zero": false, "nice": false}},
    "text": {"field": "t", "type": "nominal"}},
   "layer": [
    {"data": {"name": "f_st"}, "transform": [{"fold": ["s"], "as": ["key","t"]}, {"lookup": "key", "from": {"data": {"name": "cols"}, "key": "key", "fields": ["c"]}}], "mark": {"type": "text", "align": "left"}},
    {"data": {"name": "f_st"}, "transform": [{"fold": ["e1","n1","e2","n2","wt","ci"], "as": ["key","t"]}, {"lookup": "key", "from": {"data": {"name": "cols"}, "key": "key", "fields": ["c"]}}], "mark": {"type": "text", "align": "right"}},
    {"data": {"name": "f_tt"}, "transform": [{"fold": ["lab"], "as": ["key","t"]}, {"lookup": "key", "from": {"data": {"name": "cols"}, "key": "key", "fields": ["c"]}}], "mark": {"type": "text", "align": "left", "fontWeight": "bold"}},
    {"data": {"name": "f_tt"}, "transform": [{"fold": ["n1","n2","wt","ci"], "as": ["key","t"]}, {"lookup": "key", "from": {"data": {"name": "cols"}, "key": "key", "fields": ["c"]}}], "mark": {"type": "text", "align": "right", "fontWeight": "bold"}},
    {"data": {"name": "f_hd"}, "transform": [{"filter": "datum.k == 'N'"}], "mark": {"type": "text", "align": "left", "fontSize": 9.3}},
    {"data": {"name": "f_hd"}, "transform": [{"filter": "datum.k == 'H' && datum.c == 0"}], "mark": {"type": "text", "align": "left", "fontWeight": "bold"}},
    {"data": {"name": "f_hd"}, "transform": [{"filter": "datum.k == 'H' && datum.c > 0 && datum.c < 7"}], "mark": {"type": "text", "align": "right", "fontWeight": "bold"}},
    {"data": {"name": "f_hd"}, "transform": [{"filter": "datum.k == 'H' && datum.c > 6"}], "mark": {"type": "text", "align": "center", "fontWeight": "bold"}},
    {"data": {"name": "f_hd"}, "transform": [{"filter": "datum.k == 'L'"}], "mark": {"type": "text", "align": "left", "fontWeight": "bold", "fontSize": 16, "baseline": "alphabetic"}},
    {"data": {"name": "f_hd"}, "transform": [{"filter": "datum.k == 'S'"}], "mark": {"type": "rule", "color": "#bdbdbd", "strokeWidth": 2}, "encoding": {"x2": {"datum": 10}}}
   ]},
  {"width": 122, "height": 119, "resolve": {"scale": {"size": "independent"}},
   "encoding": {"x": {"field": "rr", "type": "quantitative", "title": null, "scale": {"type": "log", "domain": [0.1, 10], "range": [0, 122], "nice": false, "zero": false}, "axis": {"values": [0.1,0.5,1,2,10], "format": "~g", "labelPadding": 8.5}},
    "y": {"field": "r", "type": "quantitative", "axis": null, "scale": {"domain": [-4.088, 6.351], "reverse": true, "zero": false, "nice": false}}},
   "layer": [
    {"data": {"name": "f_hd"}, "transform": [{"filter": "datum.k == 'S'"}], "mark": {"type": "rule", "color": "#000", "strokeWidth": 1}, "encoding": {"x": {"datum": 1, "type": "quantitative"}, "y2": {"datum": 6.351}}},
    {"data": {"name": "f_tt"}, "mark": {"type": "rule", "color": "#666", "strokeWidth": 1, "strokeDash": [3,2]}, "encoding": {"y2": {"datum": 0}}},
    {"data": {"name": "f_st"}, "mark": {"type": "rule", "color": "#444", "strokeWidth": 1}, "encoding": {"x": {"field": "lo", "type": "quantitative"}, "x2": {"field": "hi"}}},
    {"data": {"name": "f_st"}, "mark": {"type": "point", "shape": "square", "filled": true, "color": "#1414c8", "opacity": 1}, "encoding": {"size": {"field": "w", "type": "quantitative", "legend": null, "scale": {"zero": true, "nice": false, "range": [0, 100]}}}},
    {"data": {"name": "f_tt"}, "transform": [{"fold": ["lo","rr","hi"], "as": ["key","v"]}, {"window": [{"op": "row_number", "as": "o"}]}], "mark": {"type": "trail", "color": "#000"}, "encoding": {"x": {"field": "v", "type": "quantitative"}, "size": {"field": "o", "type": "quantitative", "legend": null, "scale": {"type": "threshold", "domain": [1.5, 2.5], "range": [0, 7, 0]}}, "order": {"field": "o", "type": "quantitative"}}},
    {"data": {"name": "f_hd"}, "transform": [{"filter": "datum.k == 'P'"}], "mark": {"type": "text", "fontWeight": "bold"}, "encoding": {"x": {"datum": 1, "type": "quantitative"}, "text": {"field": "t", "type": "nominal"}}},
    {"data": {"name": "f_tt"}, "mark": {"type": "text", "align": "right", "dx": -2}, "encoding": {"x": {"datum": 1, "type": "quantitative"}, "y": {"datum": 8.9, "type": "quantitative"}, "text": {"value": "Favors control"}}},
    {"data": {"name": "f_tt"}, "mark": {"type": "text", "align": "left", "dx": 2}, "encoding": {"x": {"datum": 1, "type": "quantitative"}, "y": {"datum": 8.9, "type": "quantitative"}, "text": {"value": "Favors cell therapy"}}}
   ]}
]
}
